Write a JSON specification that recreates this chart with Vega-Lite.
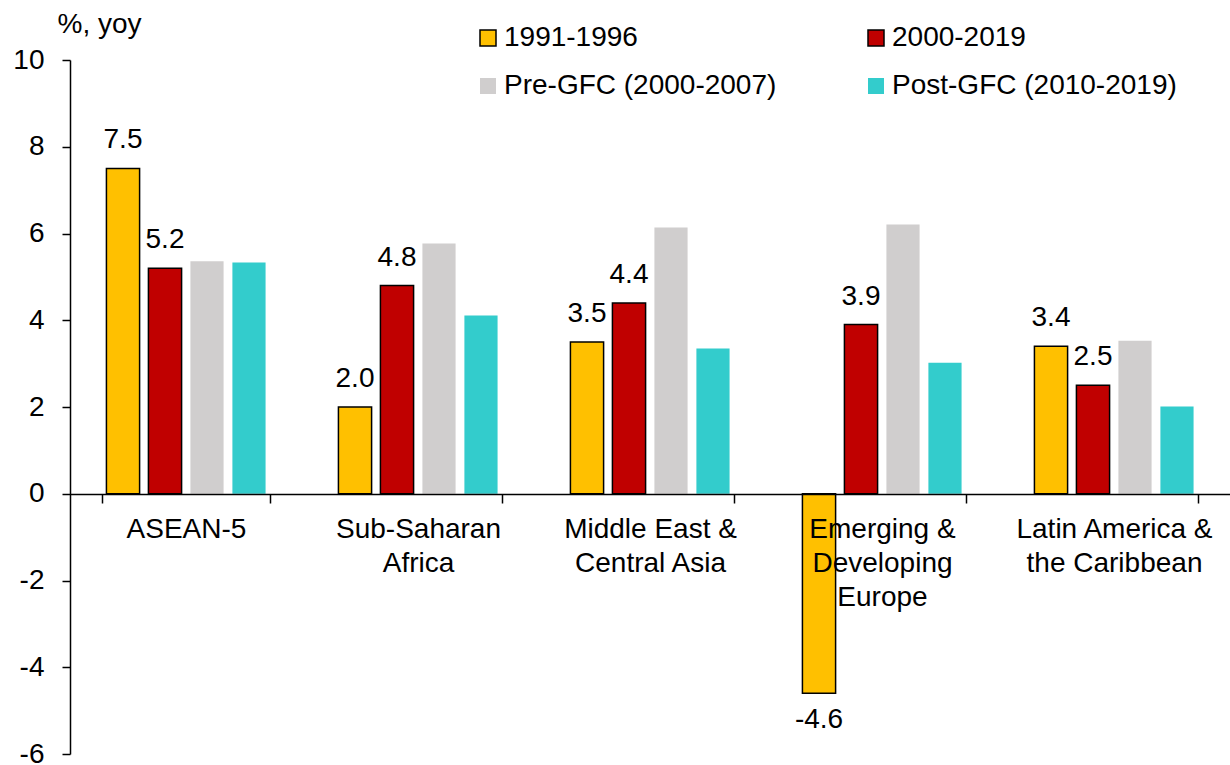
{
  "$schema": "https://vega.github.io/schema/vega-lite/v6.json",
  "width": 1160,
  "height": 694,
  "autosize": {"type": "none"},
  "padding": {"left": 70, "top": 60, "right": 0, "bottom": 11},
  "background": "white",
  "config": {
    "view": {"stroke": null},
    "font": "Liberation Sans",
    "locale": {
      "number": {"decimal": ".", "thousands": ",", "grouping": [3], "currency": ["$", ""], "minus": "-"}
    },
    "text": {"font": "Liberation Sans", "fontSize": 28, "color": "black"}
  },
  "data": {
    "values": [
      {"region": "ASEAN-5", "period": "1991-1996", "value": 7.5},
      {"region": "ASEAN-5", "period": "2000-2019", "value": 5.2},
      {"region": "ASEAN-5", "period": "Pre-GFC (2000-2007)", "value": 5.36},
      {"region": "ASEAN-5", "period": "Post-GFC (2010-2019)", "value": 5.33},
      {"region": "Sub-Saharan|Africa", "period": "1991-1996", "value": 2.0},
      {"region": "Sub-Saharan|Africa", "period": "2000-2019", "value": 4.8},
      {"region": "Sub-Saharan|Africa", "period": "Pre-GFC (2000-2007)", "value": 5.77},
      {"region": "Sub-Saharan|Africa", "period": "Post-GFC (2010-2019)", "value": 4.11},
      {"region": "Middle East &|Central Asia", "period": "1991-1996", "value": 3.5},
      {"region": "Middle East &|Central Asia", "period": "2000-2019", "value": 4.4},
      {"region": "Middle East &|Central Asia", "period": "Pre-GFC (2000-2007)", "value": 6.14},
      {"region": "Middle East &|Central Asia", "period": "Post-GFC (2010-2019)", "value": 3.35},
      {"region": "Emerging &|Developing|Europe", "period": "1991-1996", "value": -4.6},
      {"region": "Emerging &|Developing|Europe", "period": "2000-2019", "value": 3.9},
      {"region": "Emerging &|Developing|Europe", "period": "Pre-GFC (2000-2007)", "value": 6.21},
      {"region": "Emerging &|Developing|Europe", "period": "Post-GFC (2010-2019)", "value": 3.02},
      {"region": "Latin America &|the Caribbean", "period": "1991-1996", "value": 3.4},
      {"region": "Latin America &|the Caribbean", "period": "2000-2019", "value": 2.5},
      {"region": "Latin America &|the Caribbean", "period": "Pre-GFC (2000-2007)", "value": 3.53},
      {"region": "Latin America &|the Caribbean", "period": "Post-GFC (2010-2019)", "value": 2.01}
    ]
  },
  "encoding": {
    "x": {
      "field": "region",
      "type": "nominal",
      "sort": null,
      "scale": {"paddingInner": 0.276, "paddingOuter": 0.138},
      "axis": {
        "title": null,
        "offset": -260,
        "zindex": 1,
        "labelAngle": 0,
        "labelExpr": "split(datum.label, '|')",
        "labelFont": "Liberation Sans",
        "labelFontSize": 28,
        "labelColor": "black",
        "labelLineHeight": 34,
        "labelPadding": 12,
        "labelLimit": 0,
        "tickBand": "extent",
        "tickSize": 9,
        "tickColor": "black",
        "tickWidth": 1.5,
        "domainColor": "black",
        "domainWidth": 1.5
      }
    },
    "xOffset": {
      "field": "period",
      "type": "nominal",
      "sort": null,
      "scale": {"paddingInner": 0.21, "paddingOuter": 0.105}
    },
    "y": {
      "field": "value",
      "type": "quantitative",
      "scale": {"domain": [-6, 10], "nice": false, "zero": false},
      "axis": {
        "values": [-6, -4, -2, 0, 2, 4, 6, 8, 10],
        "format": "d",
        "grid": false,
        "title": "%, yoy",
        "titleAngle": 0,
        "titleAlign": "left",
        "titleBaseline": "alphabetic",
        "titleX": -13,
        "titleY": -28,
        "titleFont": "Liberation Sans",
        "titleFontSize": 28,
        "titleFontWeight": "normal",
        "titleColor": "black",
        "labelFont": "Liberation Sans",
        "labelFontSize": 28,
        "labelColor": "black",
        "labelPadding": 18,
        "tickSize": 8,
        "tickColor": "black",
        "tickWidth": 1.5,
        "domainColor": "black",
        "domainWidth": 1.5
      }
    }
  },
  "layer": [
    {
      "mark": {"type": "bar", "strokeWidth": 1.5},
      "encoding": {
        "fill": {
          "field": "period",
          "type": "nominal",
          "sort": null,
          "scale": {
            "domain": ["1991-1996", "2000-2019", "Pre-GFC (2000-2007)", "Post-GFC (2010-2019)"],
            "range": ["#FFC000", "#C00000", "#D0CECE", "#33CCCC"]
          },
          "legend": {
            "title": null,
            "orient": "none",
            "direction": "horizontal",
            "legendX": 404,
            "legendY": -36,
            "columns": 2,
            "columnPadding": 85,
            "rowPadding": 20,
            "padding": 0,
            "symbolType": "square",
            "symbolSize": 256,
            "symbolStrokeWidth": 1.5,
            "labelFont": "Liberation Sans",
            "labelFontSize": 28,
            "labelColor": "black",
            "labelOffset": 2,
            "labelLimit": 0
          }
        },
        "stroke": {
          "field": "period",
          "type": "nominal",
          "sort": null,
          "scale": {
            "domain": ["1991-1996", "2000-2019", "Pre-GFC (2000-2007)", "Post-GFC (2010-2019)"],
            "range": ["black", "black", "transparent", "transparent"]
          },
          "legend": null
        }
      }
    },
    {
      "transform": [
        {"filter": "(datum.period === '1991-1996' || datum.period === '2000-2019') && datum.value >= 0"}
      ],
      "mark": {"type": "text", "baseline": "alphabetic", "align": "center", "dy": -20},
      "encoding": {
        "text": {"field": "value", "type": "quantitative", "format": ".1f"}
      }
    },
    {
      "transform": [
        {"filter": "(datum.period === '1991-1996' || datum.period === '2000-2019') && datum.value < 0"}
      ],
      "mark": {"type": "text", "baseline": "top", "align": "center", "dy": 13},
      "encoding": {
        "text": {"field": "value", "type": "quantitative", "format": ".1f"}
      }
    }
  ]
}
